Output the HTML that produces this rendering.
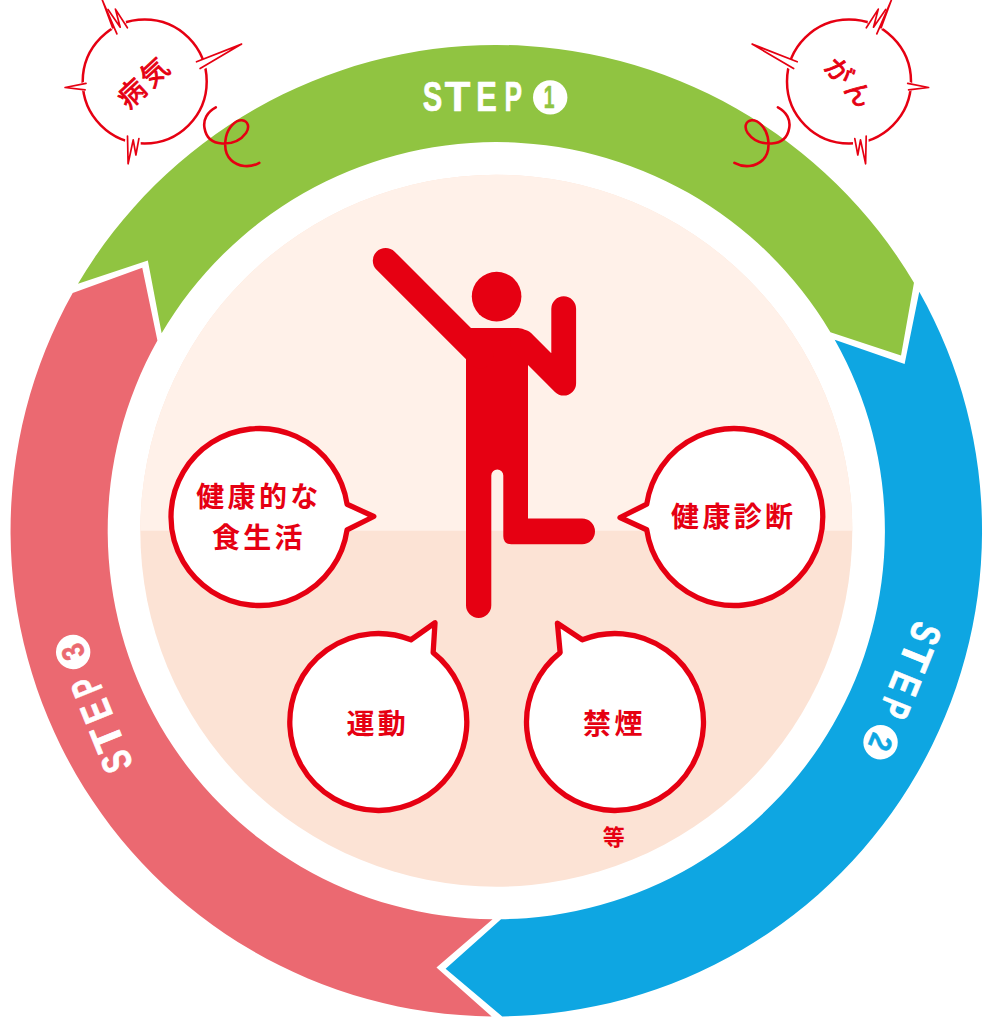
<!DOCTYPE html>
<html lang="ja"><head><meta charset="utf-8"><title>STEP</title>
<style>html,body{margin:0;padding:0;background:#fff}svg{display:block}</style></head>
<body>
<svg width="994" height="1032" viewBox="0 0 994 1032">
<rect width="994" height="1032" fill="#fff"/>
<defs><clipPath id="top"><rect x="0" y="0" width="994" height="530.7"/></clipPath></defs>
<circle cx="496.3" cy="530.7" r="356.0" fill="#fce3d5"/>
<circle cx="496.3" cy="530.7" r="356.0" fill="#fff1e9" clip-path="url(#top)"/>
<path d="M77.98,283.80 A485.75,485.75 0 0 1 913.97,282.70 L901.03,355.56 L830.44,332.30 A388.60,388.60 0 0 0 161.64,333.18 L147.84,260.41 Z" fill="#90c441"/>
<path d="M919.28,291.87 A485.75,485.75 0 0 1 502.23,1016.41 L445.61,968.78 L501.05,919.27 A388.60,388.60 0 0 0 834.69,339.64 L904.61,364.07 Z" fill="#0ea6e2"/>
<path d="M491.64,1016.43 A485.75,485.75 0 0 1 72.69,292.98 L142.26,267.76 L157.41,340.53 A388.60,388.60 0 0 0 492.57,919.28 L436.45,967.62 Z" fill="#eb6971"/>
<g transform="translate(0 0) rotate(0 496.3 530.7)"><text y="111.0" font-family="'Liberation Sans', sans-serif" font-weight="700" font-size="41.6" fill="#fff" stroke="#fff" stroke-width="0.7" stroke-linejoin="round"><tspan x="422.70" textLength="19.49" lengthAdjust="spacingAndGlyphs">S</tspan><tspan x="444.89" textLength="25.62" lengthAdjust="spacingAndGlyphs">T</tspan><tspan x="476.28" textLength="20.57" lengthAdjust="spacingAndGlyphs">E</tspan><tspan x="504.39" textLength="17.56" lengthAdjust="spacingAndGlyphs">P</tspan></text><circle cx="550.2" cy="97.4" r="17.2" fill="#fff"/><text y="108.2" font-family="'Liberation Sans', sans-serif" font-weight="700" font-size="31.5" fill="#90c441" stroke="#90c441" stroke-width="0.5" stroke-linejoin="round"><tspan x="543.68" textLength="10.76" lengthAdjust="spacingAndGlyphs">1</tspan></text></g>
<g transform="translate(2.7 -0.7) rotate(112 496.3 530.7)"><text y="111.0" font-family="'Liberation Sans', sans-serif" font-weight="700" font-size="41.6" fill="#fff" stroke="#fff" stroke-width="0.7" stroke-linejoin="round"><tspan x="422.70" textLength="19.49" lengthAdjust="spacingAndGlyphs">S</tspan><tspan x="444.89" textLength="25.62" lengthAdjust="spacingAndGlyphs">T</tspan><tspan x="476.28" textLength="20.57" lengthAdjust="spacingAndGlyphs">E</tspan><tspan x="504.39" textLength="17.56" lengthAdjust="spacingAndGlyphs">P</tspan></text><circle cx="550.2" cy="97.4" r="17.2" fill="#fff"/><text y="108.2" font-family="'Liberation Sans', sans-serif" font-weight="700" font-size="31.5" fill="#0ea6e2" stroke="#0ea6e2" stroke-width="0.5" stroke-linejoin="round"><tspan x="542.75" textLength="15.03" lengthAdjust="spacingAndGlyphs">2</tspan></text></g>
<g transform="translate(-1.2 9.0) rotate(-112 496.3 530.7)"><text y="111.0" font-family="'Liberation Sans', sans-serif" font-weight="700" font-size="41.6" fill="#fff" stroke="#fff" stroke-width="0.7" stroke-linejoin="round"><tspan x="422.70" textLength="19.49" lengthAdjust="spacingAndGlyphs">S</tspan><tspan x="444.89" textLength="25.62" lengthAdjust="spacingAndGlyphs">T</tspan><tspan x="476.28" textLength="20.57" lengthAdjust="spacingAndGlyphs">E</tspan><tspan x="504.39" textLength="17.56" lengthAdjust="spacingAndGlyphs">P</tspan></text><circle cx="550.2" cy="97.4" r="17.2" fill="#fff"/><text y="108.2" font-family="'Liberation Sans', sans-serif" font-weight="700" font-size="31.5" fill="#eb6971" stroke="#eb6971" stroke-width="0.5" stroke-linejoin="round"><tspan x="543.10" textLength="14.54" lengthAdjust="spacingAndGlyphs">3</tspan></text></g>
<g fill="#e60012" stroke="none">
<circle cx="496.6" cy="296.6" r="24.8"/>
<path d="M466,328 H518 Q528,328 528,338 V518.5 H582.1 A12.9,12.9 0 0 1 582.1,544.3 H511.3 Q503.3,544.3 503.3,536.3 V475.5 A6,6 0 0 0 491.3,475.5 V605.3 A12.65,12.65 0 0 1 466,605.3 Z"/>
</g>
<path d="M385.6,260.7 L480.6,355.7" stroke="#e60012" stroke-width="25.6" stroke-linecap="round" fill="none"/>
<path d="M563.7,308.7 V383.2 L522.3,341.8" stroke="#e60012" stroke-width="24.8" stroke-linecap="round" stroke-linejoin="round" fill="none"/>
<g transform="translate(259.5 517)"><path d="M87.57,-12.78 L114.3,-0.5 L87.57,12.78 A88.5,88.5 0 1 1 87.57,-12.78 Z" transform="rotate(0)" fill="#fff" stroke="#e60012" stroke-width="5.3" stroke-linejoin="round"/><text x="-0.6" y="-10" text-anchor="middle" font-family="'Liberation Sans', 'Noto Sans CJK JP', sans-serif" font-weight="700" font-size="28" letter-spacing="3.3" fill="#e60012">健康的な</text><text x="-0.6" y="31" text-anchor="middle" font-family="'Liberation Sans', 'Noto Sans CJK JP', sans-serif" font-weight="700" font-size="28" letter-spacing="3.3" fill="#e60012">食生活</text></g>
<g transform="translate(734.3 517)"><path d="M87.57,-12.78 L114.3,-0.5 L87.57,12.78 A88.5,88.5 0 1 1 87.57,-12.78 Z" transform="rotate(180)" fill="#fff" stroke="#e60012" stroke-width="5.3" stroke-linejoin="round"/><text x="-0.6" y="10" text-anchor="middle" font-family="'Liberation Sans', 'Noto Sans CJK JP', sans-serif" font-weight="700" font-size="28" letter-spacing="3.3" fill="#e60012">健康診断</text></g>
<g transform="translate(378.3 722)"><path d="M87.57,-12.78 L114.3,-0.5 L87.57,12.78 A88.5,88.5 0 1 1 87.57,-12.78 Z" transform="rotate(-60)" fill="#fff" stroke="#e60012" stroke-width="5.3" stroke-linejoin="round"/><text x="-0.6" y="12" text-anchor="middle" font-family="'Liberation Sans', 'Noto Sans CJK JP', sans-serif" font-weight="700" font-size="28" letter-spacing="3.3" fill="#e60012">運動</text></g>
<g transform="translate(615 722)"><path d="M87.57,-12.78 L114.3,-0.5 L87.57,12.78 A88.5,88.5 0 1 1 87.57,-12.78 Z" transform="rotate(-120)" fill="#fff" stroke="#e60012" stroke-width="5.3" stroke-linejoin="round"/><text x="-0.6" y="12" text-anchor="middle" font-family="'Liberation Sans', 'Noto Sans CJK JP', sans-serif" font-weight="700" font-size="28" letter-spacing="3.3" fill="#e60012">禁煙</text></g>
<text x="613.7" y="845" text-anchor="middle" font-family="'Liberation Sans', 'Noto Sans CJK JP', sans-serif" font-weight="700" font-size="22" fill="#e60012">等</text>
<g transform="" fill="#fff" stroke="#e60012" stroke-width="1.7" stroke-linejoin="round" stroke-linecap="round"><circle cx="144.7" cy="81.5" r="62" stroke-width="2.5"/><g stroke="#fff" stroke-width="3.4"><path d="M112.6,27.8 L118,31 L124.4,22.3 L118,19 Z"/><path d="M199.5,60.5 L202.5,68 L210,64 Z"/><path d="M84,83.8 L84,89.5 L78,86.6 Z"/><path d="M127,138.5 L139,140 L139,146 L126.5,144 Z"/></g><path d="M112.6,27.8 L102.4,0.3 L116.9,33.8" /><path d="M108,9.5 L120.2,27.2 L115.4,9.1 L127.4,27.8" fill="none"/><path d="M196.5,61.8 L241.6,44.1 L200.1,68.6"/><path d="M86,83.3 L65.1,87.5 L85.1,89.9"/><path d="M127.5,136 L128.1,163.8 L133.2,139.9 L135.9,155 L138.9,138.7" fill="none"/><path d="M215.8,107.4 C207,112 203,120 204.5,128 C206,137 212,143 222,143.5 C232,144 241,140 246,133 C250,127 248,121 242,120.3 C235,120 228,128 226,137 C224,147 226,155 231,160 C238,167 250,168 259.3,162.9" fill="none" stroke-width="2.6" stroke-linecap="round"/></g><text transform="translate(143.7 83.0) rotate(-43)" x="1.5" y="9.5" text-anchor="middle" font-family="'Liberation Sans', 'Noto Sans CJK JP', sans-serif" font-weight="400" font-size="27.5" letter-spacing="3.5" fill="#e60012" stroke="#e60012" stroke-width="0.9" stroke-linejoin="round">病気</text>
<g transform="translate(993.7 0) scale(-1 1)" fill="#fff" stroke="#e60012" stroke-width="1.7" stroke-linejoin="round" stroke-linecap="round"><circle cx="144.7" cy="81.5" r="62" stroke-width="2.5"/><g stroke="#fff" stroke-width="3.4"><path d="M112.6,27.8 L118,31 L124.4,22.3 L118,19 Z"/><path d="M199.5,60.5 L202.5,68 L210,64 Z"/><path d="M84,83.8 L84,89.5 L78,86.6 Z"/><path d="M127,138.5 L139,140 L139,146 L126.5,144 Z"/></g><path d="M112.6,27.8 L102.4,0.3 L116.9,33.8" /><path d="M108,9.5 L120.2,27.2 L115.4,9.1 L127.4,27.8" fill="none"/><path d="M196.5,61.8 L241.6,44.1 L200.1,68.6"/><path d="M86,83.3 L65.1,87.5 L85.1,89.9"/><path d="M127.5,136 L128.1,163.8 L133.2,139.9 L135.9,155 L138.9,138.7" fill="none"/><path d="M215.8,107.4 C207,112 203,120 204.5,128 C206,137 212,143 222,143.5 C232,144 241,140 246,133 C250,127 248,121 242,120.3 C235,120 228,128 226,137 C224,147 226,155 231,160 C238,167 250,168 259.3,162.9" fill="none" stroke-width="2.6" stroke-linecap="round"/></g><text transform="translate(848.9 82.6) rotate(48)" x="1.5" y="9.5" text-anchor="middle" font-family="'Liberation Sans', 'Noto Sans CJK JP', sans-serif" font-weight="400" font-size="26.5" letter-spacing="3.5" fill="#e60012" stroke="#e60012" stroke-width="0.9" stroke-linejoin="round">がん</text>
</svg>
</body></html>
